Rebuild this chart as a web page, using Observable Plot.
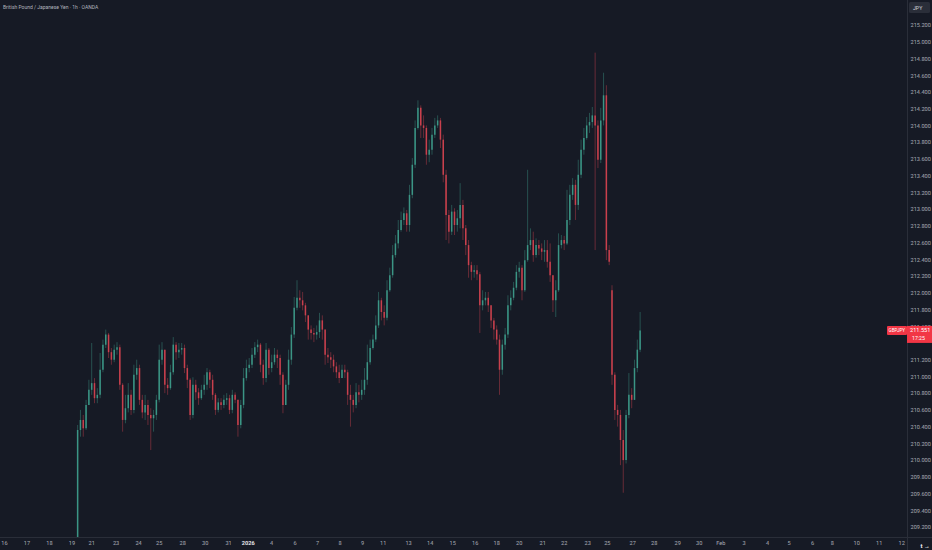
<!DOCTYPE html>
<html><head><meta charset="utf-8">
<script src="https://cdn.jsdelivr.net/npm/d3@7"></script>
<script src="https://cdn.jsdelivr.net/npm/@observablehq/plot@0.6"></script>
<style>
html,body{margin:0;padding:0;background:#161a25;}
#chart{width:932px;height:550px;overflow:hidden;}
</style></head><body><div id="chart"></div>
<script>
const title = "British Pound / Japanese Yen · 1h · OANDA";
const currency = "JPY";
const symbol = "GBPJPY";
const lastPriceText = "211.551";
const countdown = "17:25";

// 3-hour candles, trading hours since the Dec 16 session start
const startHour = 78;
const barHours = 3;

const open = [208.98, 210.36, 210.48, 210.38, 210.66, 210.84, 210.92, 210.74, 210.78, 211.08,
 211.38, 211.50, 211.29, 211.20, 211.32, 211.35, 210.90, 210.48, 210.62, 210.78,
 210.60, 211.02, 211.10, 210.72, 210.57, 210.66, 210.54, 210.50, 210.54, 210.72,
 211.20, 211.32, 210.90, 210.86, 211.05, 211.38, 211.29, 211.32, 211.34, 211.10,
 210.96, 210.54, 210.90, 210.81, 210.74, 210.84, 210.90, 211.05, 210.96, 210.78,
 210.60, 210.69, 210.66, 210.72, 210.74, 210.60, 210.78, 210.72, 210.42, 210.66,
 210.98, 211.10, 211.14, 211.26, 211.35, 211.38, 211.14, 210.98, 211.32, 211.10,
 211.17, 211.26, 211.22, 211.02, 210.66, 210.90, 211.20, 211.50, 211.82, 211.94,
 211.91, 211.85, 211.73, 211.56, 211.52, 211.50, 211.53, 211.67, 211.56, 211.26,
 211.23, 211.20, 211.12, 211.05, 210.98, 211.08, 211.05, 210.78, 210.72, 210.66,
 210.81, 210.78, 210.84, 210.96, 211.17, 211.34, 211.44, 211.61, 211.91, 211.77,
 211.70, 212.03, 212.21, 212.45, 212.59, 212.75, 212.87, 212.95, 212.81, 213.17,
 213.53, 213.97, 214.21, 214.00, 213.97, 213.65, 213.71, 213.89, 214.00, 214.06,
 213.83, 213.41, 212.93, 212.73, 212.97, 212.81, 212.89, 213.05, 212.77, 212.57,
 212.33, 212.25, 212.27, 212.22, 211.85, 211.91, 211.94, 211.85, 211.67, 211.56,
 211.44, 211.08, 211.38, 211.50, 211.85, 211.94, 212.06, 212.25, 212.30, 212.03,
 212.39, 212.57, 212.63, 212.45, 212.57, 212.53, 212.49, 212.51, 212.37, 212.21,
 211.91, 212.03, 212.57, 212.63, 212.59, 212.87, 213.17, 213.29, 213.05, 213.41,
 213.71, 213.85, 214.00, 214.04, 214.12, 214.00, 213.59, 214.06, 214.36, 212.51,
 212.03, 211.02, 210.60, 210.54, 210.24, 210.00, 210.54, 210.78, 210.72, 211.10,
 211.32];

const close = [210.36, 210.48, 210.38, 210.66, 210.84, 210.92, 210.74, 210.78, 211.08, 211.38,
 211.50, 211.29, 211.20, 211.32, 211.35, 210.90, 210.48, 210.62, 210.78, 210.60,
 211.02, 211.10, 210.72, 210.57, 210.66, 210.54, 210.50, 210.54, 210.72, 211.20,
 211.32, 210.90, 210.86, 211.05, 211.38, 211.29, 211.32, 211.34, 211.10, 210.96,
 210.54, 210.90, 210.81, 210.74, 210.84, 210.90, 211.05, 210.96, 210.78, 210.60,
 210.69, 210.66, 210.72, 210.74, 210.60, 210.78, 210.72, 210.42, 210.66, 210.98,
 211.10, 211.14, 211.26, 211.35, 211.38, 211.14, 210.98, 211.32, 211.10, 211.17,
 211.26, 211.22, 211.02, 210.66, 210.90, 211.20, 211.50, 211.82, 211.94, 211.91,
 211.85, 211.73, 211.56, 211.52, 211.50, 211.53, 211.67, 211.56, 211.26, 211.23,
 211.20, 211.12, 211.05, 210.98, 211.08, 211.05, 210.78, 210.72, 210.66, 210.81,
 210.78, 210.84, 210.96, 211.17, 211.34, 211.44, 211.61, 211.91, 211.77, 211.70,
 212.03, 212.21, 212.45, 212.59, 212.75, 212.87, 212.95, 212.81, 213.17, 213.53,
 213.97, 214.21, 214.00, 213.97, 213.65, 213.71, 213.89, 214.00, 214.06, 213.83,
 213.41, 212.93, 212.73, 212.97, 212.81, 212.89, 213.05, 212.77, 212.57, 212.33,
 212.25, 212.27, 212.22, 211.85, 211.91, 211.94, 211.85, 211.67, 211.56, 211.44,
 211.08, 211.38, 211.50, 211.85, 211.94, 212.06, 212.25, 212.30, 212.03, 212.39,
 212.57, 212.63, 212.45, 212.57, 212.53, 212.49, 212.51, 212.37, 212.21, 211.91,
 212.03, 212.57, 212.63, 212.59, 212.87, 213.17, 213.29, 213.05, 213.41, 213.71,
 213.85, 214.00, 214.04, 214.12, 214.00, 213.59, 214.06, 214.36, 212.51, 212.37,
 211.02, 210.60, 210.54, 210.24, 210.00, 210.54, 210.78, 210.72, 211.10, 211.32,
 211.55];

const high = [210.42, 210.60, 210.54, 210.72, 210.96, 211.40, 210.98, 210.86, 211.28, 211.44,
 211.56, 211.52, 211.34, 211.38, 211.41, 211.38, 210.92, 210.78, 210.92, 210.84,
 211.14, 211.20, 211.14, 210.78, 210.78, 210.72, 210.62, 210.60, 210.78, 211.38,
 211.41, 211.32, 210.98, 211.14, 211.47, 211.41, 211.40, 211.40, 211.38, 211.14,
 210.98, 210.99, 210.96, 210.86, 210.90, 211.02, 211.10, 211.08, 211.02, 210.80,
 210.74, 210.74, 210.78, 210.80, 210.78, 210.84, 210.81, 210.72, 210.72, 211.10,
 211.20, 211.22, 211.34, 211.41, 211.44, 211.40, 211.20, 211.40, 211.34, 211.26,
 211.34, 211.32, 211.26, 211.05, 210.96, 211.32, 211.59, 211.95, 212.15, 212.03,
 212.01, 211.88, 211.73, 211.61, 211.58, 211.61, 211.76, 211.73, 211.56, 211.34,
 211.29, 211.26, 211.17, 211.14, 211.14, 211.14, 211.08, 210.90, 210.78, 210.92,
 210.90, 210.96, 211.10, 211.38, 211.44, 211.50, 211.73, 212.01, 211.94, 211.85,
 212.15, 212.30, 212.57, 212.69, 212.87, 212.97, 213.02, 212.99, 213.29, 213.61,
 214.06, 214.30, 214.24, 214.12, 214.00, 213.83, 213.97, 214.09, 214.12, 214.09,
 213.89, 213.47, 212.99, 213.05, 213.01, 212.99, 213.31, 213.11, 212.81, 212.63,
 212.37, 212.33, 212.33, 212.25, 212.03, 212.01, 212.01, 211.85, 211.70, 211.61,
 211.50, 211.44, 211.58, 211.97, 212.03, 212.13, 212.33, 212.37, 212.33, 212.51,
 213.47, 212.77, 212.73, 212.65, 212.63, 212.59, 212.63, 212.63, 212.59, 212.21,
 212.15, 212.71, 212.69, 212.68, 213.23, 213.29, 213.37, 213.35, 213.59, 213.83,
 213.97, 214.10, 214.15, 214.22, 214.87, 214.06, 214.21, 214.63, 214.48, 212.57,
 212.09, 211.05, 210.66, 210.60, 210.36, 210.60, 211.04, 210.86, 211.20, 211.44,
 211.77];

const low = [209.00, 210.28, 210.28, 210.36, 210.66, 210.78, 210.68, 210.68, 210.74, 211.05,
 211.34, 211.22, 211.14, 211.17, 211.26, 210.84, 210.34, 210.44, 210.57, 210.54,
 210.56, 210.96, 210.66, 210.50, 210.48, 210.42, 210.12, 210.34, 210.48, 210.69,
 211.14, 210.80, 210.78, 210.84, 211.02, 211.20, 211.22, 211.26, 211.04, 210.86,
 210.48, 210.50, 210.72, 210.66, 210.72, 210.78, 210.84, 210.86, 210.72, 210.54,
 210.57, 210.60, 210.62, 210.66, 210.55, 210.56, 210.68, 210.28, 210.38, 210.62,
 210.95, 211.05, 211.10, 211.22, 211.29, 211.05, 210.90, 210.93, 211.02, 211.05,
 211.14, 211.10, 210.90, 210.56, 210.66, 210.84, 211.14, 211.46, 211.79, 211.82,
 211.79, 211.65, 211.44, 211.44, 211.41, 211.44, 211.46, 211.44, 211.14, 211.16,
 211.10, 211.05, 210.98, 210.92, 210.98, 210.98, 210.66, 210.40, 210.57, 210.62,
 210.69, 210.72, 210.78, 210.90, 211.14, 211.32, 211.41, 211.58, 211.67, 211.61,
 211.67, 212.01, 212.18, 212.42, 212.53, 212.73, 212.81, 212.73, 212.73, 213.13,
 213.49, 213.95, 213.85, 213.85, 213.53, 213.56, 213.65, 213.85, 213.97, 213.73,
 213.32, 212.63, 212.59, 212.69, 212.69, 212.73, 212.77, 212.63, 212.45, 212.18,
 212.15, 212.18, 212.15, 211.52, 211.79, 211.85, 211.77, 211.58, 211.44, 211.38,
 210.78, 211.02, 211.32, 211.46, 211.79, 211.91, 212.03, 212.18, 211.91, 212.01,
 212.37, 212.51, 212.37, 212.42, 212.45, 212.39, 212.37, 212.30, 212.13, 211.77,
 211.71, 212.01, 212.53, 212.51, 212.57, 212.81, 213.11, 212.87, 212.99, 213.37,
 213.65, 213.83, 213.91, 213.97, 212.51, 213.49, 213.55, 214.00, 212.39, 212.33,
 210.90, 210.48, 210.40, 209.94, 209.61, 209.96, 210.50, 210.62, 210.72, 211.05,
 211.29];

const yTicks = [209.2, 209.4, 209.6, 209.8, 210.0, 210.2, 210.4, 210.6, 210.8, 211.0, 211.2,
  211.6, 211.8, 212.0, 212.2, 212.4, 212.6, 212.8, 213.0, 213.2, 213.4, 213.6, 213.8,
  214.0, 214.2, 214.4, 214.6, 214.8, 215.0, 215.2];

const xTickLabels = ["16","17","18","19","21","23","24","25","28","30","31","2026","4","6","7","8","9","11","13","14","15","16","18","20","21","22","23","25","27","28","29","30","Feb","3","4","5","6","8","10","11","12"];
const xTickHours = [0,24,48,72,93,119,143,165,190,214,239,260,285,310,334,358,382,404,431,454,478,502,525,549,574,597,622,643,670,693,718,741,764,789,814,837,862,883,909,933,957];

// ---- build ----
const candles = close.map((c, i) => ({
  t: startHour + barHours * i, open: open[i], high: high[i], low: low[i], close: c
}));
const ups = candles.filter(d => d.close >= d.open);
const downs = candles.filter(d => d.close < d.open);
const UP = "#3b9585", DOWN = "#c9404d";
const labelOf = new Map(xTickHours.map((h, i) => [h, xTickLabels[i]]));
const FONT = "Roboto, 'Open Sans', sans-serif";
const AXIS_TEXT = "#a9acb5";

const chart = Plot.plot({
  width: 932, height: 550,
  marginTop: 0, marginBottom: 13, marginLeft: 0, marginRight: 25,
  style: {background: "#161a25", color: AXIS_TEXT, fontFamily: FONT, fontSize: "5.6px", overflow: "hidden"},
  x: {domain: [-4.27, 963.2], axis: null},
  y: {domain: [209.081, 215.499], axis: null},
  marks: [
    Plot.ruleX(ups, {x: "t", y1: "low", y2: "high", stroke: UP, strokeOpacity: 0.45, strokeWidth: 1, clip: true}),
    Plot.ruleX(downs, {x: "t", y1: "low", y2: "high", stroke: DOWN, strokeOpacity: 0.45, strokeWidth: 1, clip: true}),
    Plot.ruleX(ups, {x: "t", y1: "open", y2: "close", stroke: UP, strokeWidth: 1.5, clip: true}),
    Plot.ruleX(downs, {x: "t", y1: "open", y2: "close", stroke: DOWN, strokeWidth: 1.5, clip: true}),
    Plot.axisY(yTicks, {anchor: "right", tickSize: 0, tickPadding: 3, tickFormat: d => d.toFixed(3), fill: AXIS_TEXT}),
    Plot.axisX(xTickHours.filter(h => labelOf.get(h) !== "2026"), {anchor: "bottom", tickSize: 0, tickPadding: 4, tickFormat: d => labelOf.get(d), fill: AXIS_TEXT}),
    Plot.axisX(xTickHours.filter(h => labelOf.get(h) === "2026"), {anchor: "bottom", tickSize: 0, tickPadding: 4, tickFormat: d => labelOf.get(d), fill: "#e6e7ea", fontWeight: "bold"})
  ]
});

const svg = d3.select(chart);
const W = 932, H = 550, frameRight = 907, frameBottom = 537;
svg.selectAll("text").attr("text-rendering", "geometricPrecision");
// separators
svg.append("line").attr("x1", 0).attr("x2", W).attr("y1", frameBottom + 0.5).attr("y2", frameBottom + 0.5).attr("stroke", "#2a2e39");
svg.append("line").attr("x1", frameRight + 0.5).attr("x2", frameRight + 0.5).attr("y1", 0).attr("y2", H).attr("stroke", "#2a2e39");
const addText = (x, y, txt, size, fill, weight) => svg.append("text")
  .attr("x", x).attr("y", y).attr("fill", fill).attr("font-family", FONT)
  .attr("font-size", size).attr("font-weight", weight || "normal")
  .attr("text-anchor", "start").text(txt);
// title
addText(3, 9, title, 5, "#b2b5be");
// currency badge
svg.append("rect").attr("x", 909).attr("y", 2).attr("width", 21).attr("height", 11).attr("rx", 1.5).attr("fill", "#2a2e39");
addText(913, 9.5, currency, 5.2, "#d1d4dc");
// last price badge, placed through the y scale
const yPx = chart.scale("y").apply(close[close.length - 1]);
svg.append("rect").attr("x", 887).attr("y", yPx - 4.5).attr("width", 20).attr("height", 9).attr("rx", 1).attr("fill", "#f23645");
svg.append("rect").attr("x", 907).attr("y", yPx - 4.5).attr("width", 25).attr("height", 17).attr("fill", "#f23645");
addText(888.5, yPx + 2, symbol, 4.6, "#ffffff");
addText(910, yPx + 2, lastPriceText, 5.6, "#ffffff");
addText(912, yPx + 9.5, countdown, 5.2, "#ffffff");

document.getElementById("chart").append(chart);
</script>
</body></html>
